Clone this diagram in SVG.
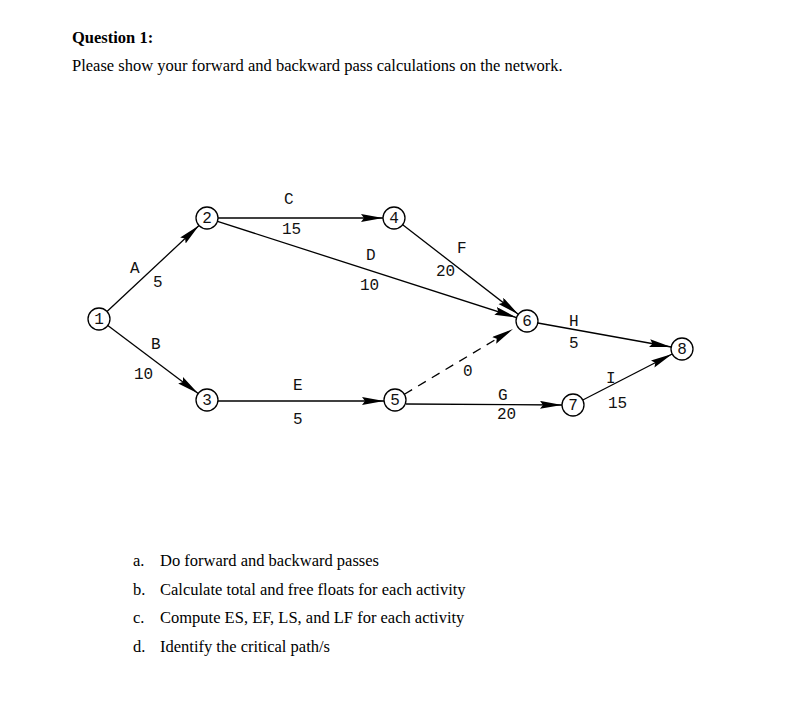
<svg xmlns="http://www.w3.org/2000/svg" width="791" height="713" viewBox="0 0 791 713">
<defs>
<marker id="ah" markerUnits="userSpaceOnUse" markerWidth="24" markerHeight="10" refX="22" refY="4" orient="auto">
<path d="M0,0 L22,4 L0,8 L3,4 z" fill="#000"/>
</marker>
<style>
.hd{font-family:"Liberation Serif","Times New Roman",serif;font-size:16.5px;fill:#000}
.lb{font-family:"Liberation Mono","DejaVu Sans Mono",monospace;font-size:16px;fill:#111}
.nd circle{fill:#fff;stroke:#000;stroke-width:1.3}
.nd text{font-family:"Liberation Mono","DejaVu Sans Mono",monospace;font-size:16px;text-anchor:middle;fill:#111}
.cn line{stroke:#000;stroke-width:1.3;marker-end:url(#ah)}
</style>
</defs>
<rect width="791" height="713" fill="#fff"/>
<text class="hd" x="72" y="43" font-weight="bold">Question 1:</text>
<text class="hd" x="72" y="71">Please show your forward and backward pass calculations on the network.</text>

<g id="connectors" class="cn">
<line x1="107" y1="311.5" x2="199" y2="225.5"/>
<line x1="107.8" y1="325.6" x2="198.2" y2="393.4"/>
<line x1="218" y1="218" x2="383" y2="218"/>
<line x1="217.5" y1="221.4" x2="516.5" y2="317.6"/>
<line x1="218" y1="401" x2="384" y2="401"/>
<line x1="402.7" y1="224.7" x2="518.3" y2="314.3"/>
<line x1="404.4" y1="394.3" x2="513" y2="329" stroke-dasharray="9,7"/>
<line x1="406" y1="404" x2="562" y2="405"/>
<line x1="537.8" y1="323" x2="671.2" y2="347"/>
<line x1="582.8" y1="400" x2="672.2" y2="354"/>
</g>

<g id="labels" class="lb">
<text x="130" y="273">A</text>
<text x="153" y="287">5</text>
<text x="151" y="349">B</text>
<text x="134" y="379">10</text>
<text x="284" y="204">C</text>
<text x="282" y="234">15</text>
<text x="366" y="260">D</text>
<text x="360" y="290">10</text>
<text x="457" y="253">F</text>
<text x="436" y="276">20</text>
<text x="293" y="390">E</text>
<text x="293" y="424">5</text>
<text x="463" y="376">0</text>
<text x="498" y="400">G</text>
<text x="497" y="419">20</text>
<text x="569" y="326">H</text>
<text x="569" y="348">5</text>
<text x="606" y="383">I</text>
<text x="608" y="408">15</text>
</g>

<g id="n1" class="nd"><circle cx="99" cy="319" r="11"/><text x="99" y="324">1</text></g>
<g id="n2" class="nd"><circle cx="207" cy="218" r="11"/><text x="207" y="223">2</text></g>
<g id="n3" class="nd"><circle cx="207" cy="400" r="11"/><text x="207" y="405">3</text></g>
<g id="n4" class="nd"><circle cx="394" cy="218" r="11"/><text x="394" y="223">4</text></g>
<g id="n5" class="nd"><circle cx="395" cy="400" r="11"/><text x="395" y="405">5</text></g>
<g id="n6" class="nd"><circle cx="527" cy="321" r="11"/><text x="527" y="326">6</text></g>
<g id="n7" class="nd"><circle cx="573" cy="405" r="11"/><text x="573" y="410">7</text></g>
<g id="n8" class="nd"><circle cx="682" cy="349" r="11"/><text x="682" y="354">8</text></g>

<g id="questions" class="hd">
<text x="133" y="566">a.</text><text x="160" y="566">Do forward and backward passes</text>
<text x="133" y="595">b.</text><text x="160" y="595">Calculate total and free floats for each activity</text>
<text x="133" y="623">c.</text><text x="160" y="623">Compute ES, EF, LS, and LF for each activity</text>
<text x="133" y="652">d.</text><text x="160" y="652">Identify the critical path/s</text>
</g>
</svg>
